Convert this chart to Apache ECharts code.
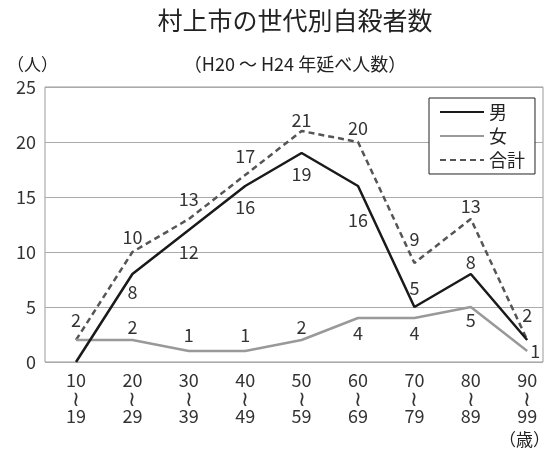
<!DOCTYPE html>
<html><head><meta charset="utf-8">
<script src="https://cdn.jsdelivr.net/npm/echarts@6/dist/echarts.min.js"></script>
<style>html,body{margin:0;padding:0;background:#fff}#c{width:552px;height:450px}</style>
</head><body><div id="c"></div>
<script>
const categories = ["10\n≀\n19","20\n≀\n29","30\n≀\n39","40\n≀\n49","50\n≀\n59","60\n≀\n69","70\n≀\n79","80\n≀\n89","90\n≀\n99"];
const male = [0, 8, 12, 16, 19, 16, 5, 8, 2];
const female = [2, 2, 1, 1, 2, 4, 4, 5, 1];
const total = [2, 10, 13, 17, 21, 20, 9, 13, 2];
const yTicks = [0, 5, 10, 15, 20, 25];

// label placement (style only)
const maleLabelPos = [null,'bottom','bottom','bottom','bottom','bottom','top','top',null];
const maleLabelDist = [0, 9, 13, 12, 12, 25, 10, 3, 0];
const femaleLabelPos = [null,'top','top','top','top','bottom','bottom','bottom','right'];
const femaleLabelDist = [0, 4, 7, 7, 4, 6, 6, 4, 3];
const totalLabelPos = ['top','top','top','top','top','top','top','top','top'];
const totalLabelDist = [11, 6, 11, 10, 2, 5, 15, 4, 16];

const FONT = '"Noto Sans CJK JP", "Noto Sans", sans-serif';
function build(arr, pos, dist) {
  return arr.map((v, i) => ({
    value: [i, v],
    label: pos[i] ? { show: true, position: pos[i], distance: dist[i] } : { show: false }
  }));
}
const lbl = { fontFamily: FONT, fontSize: 18, color: '#333' };

const chart = echarts.init(document.getElementById('c'));
chart.setOption({
  animation: false,
  textStyle: { fontFamily: FONT },
  title: [
    { text: '村上市の世代別自殺者数', left: 290, top: 3, textAlign: 'center',
      textStyle: { fontFamily: FONT, fontSize: 25, fontWeight: 'normal', color: '#222' } },
    { text: '（H20 〜 H24 年延べ人数）', left: 290, top: 50, textAlign: 'center',
      textStyle: { fontFamily: FONT, fontSize: 18, fontWeight: 'normal', color: '#222' } },
    { text: '（人）', left: 2, top: 51,
      textStyle: { fontFamily: FONT, fontSize: 17, fontWeight: 'normal', color: '#222' } },
    { text: '（歳）', left: 494, top: 426,
      textStyle: { fontFamily: FONT, fontSize: 17, fontWeight: 'normal', color: '#222' } }
  ],
  legend: {
    orient: 'vertical', left: 429, top: 98, width: 110,
    padding: [5, 10, 5, 10], itemGap: 6, itemWidth: 44, itemHeight: 14,
    borderColor: '#222', borderWidth: 1, backgroundColor: '#fff',
    itemStyle: { opacity: 0 },
    textStyle: { fontFamily: FONT, fontSize: 18, color: '#222' },
    data: ['男', '女', '合計']
  },
  grid: { left: 45, right: 9, top: 87, bottom: 88, show: true, borderColor: '#999', borderWidth: 1 },
  xAxis: {
    type: 'value', min: -0.55, max: 8.28,
    axisLine: { show: false }, axisTick: { show: false }, splitLine: { show: false },
    axisLabel: {
      customValues: categories.map((c, i) => i),
      formatter: v => {
        const parts = (categories[Math.round(v)] || '').split('\n');
        return parts.length === 3 ? '{a|' + parts[0] + '}\n{w|' + parts[1] + '}\n{a|' + parts[2] + '}' : '';
      },
      rich: {
        a: { fontFamily: FONT, fontSize: 18, color: '#333', lineHeight: 18 },
        w: { fontFamily: FONT, fontSize: 21, color: '#333', lineHeight: 18 }
      },
      fontFamily: FONT, fontSize: 18, color: '#333', lineHeight: 18, margin: 9
    }
  },
  yAxis: {
    type: 'value', min: yTicks[0], max: yTicks[yTicks.length - 1], interval: 5,
    axisLine: { show: false }, axisTick: { show: false },
    splitLine: { lineStyle: { color: '#aaa', width: 1 } },
    axisLabel: { fontFamily: FONT, fontSize: 18, color: '#333', margin: 9 }
  },
  series: [
    { name: '合計', type: 'line', symbol: 'circle', symbolSize: 0.01, showSymbol: true, z: 2,
      lineStyle: { color: '#555', width: 2.5, type: [6, 4] }, itemStyle: { color: '#555' },
      label: lbl, data: build(total, totalLabelPos, totalLabelDist) },
    { name: '女', type: 'line', symbol: 'circle', symbolSize: 0.01, showSymbol: true, z: 3,
      lineStyle: { color: '#999', width: 2.5 }, itemStyle: { color: '#999' },
      label: lbl, data: build(female, femaleLabelPos, femaleLabelDist) },
    { name: '男', type: 'line', symbol: 'circle', symbolSize: 0.01, showSymbol: true, z: 4,
      lineStyle: { color: '#1a1a1a', width: 2.5 }, itemStyle: { color: '#1a1a1a' },
      label: lbl, data: build(male, maleLabelPos, maleLabelDist) }
  ]
});
</script></body></html>
